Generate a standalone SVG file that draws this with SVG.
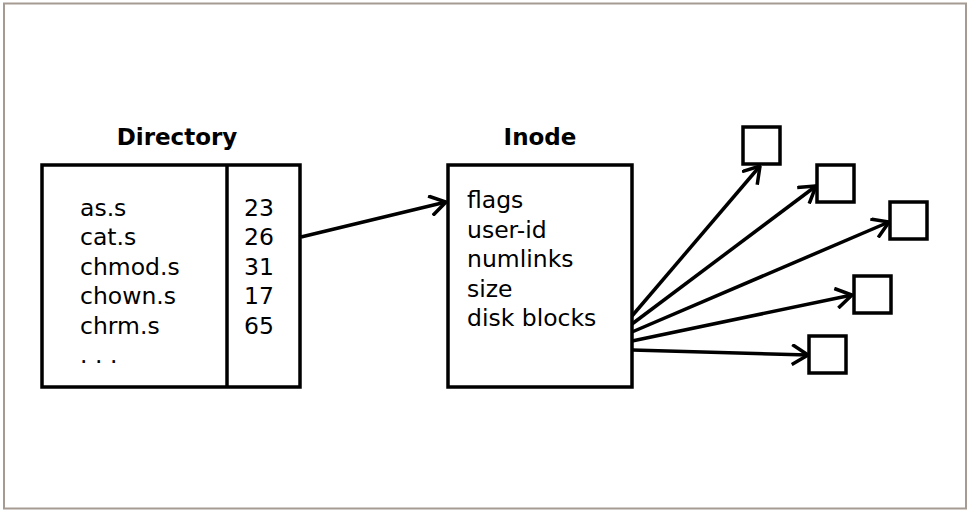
<svg xmlns="http://www.w3.org/2000/svg" width="969" height="511" viewBox="0 0 969 511">
<style>
.box{fill:#fff;stroke:#000;stroke-width:3.5}
.t{font-family:"DejaVu Sans",sans-serif;font-size:23.5px;fill:#000}
.h{font-family:"DejaVu Sans",sans-serif;font-size:23px;font-weight:bold;fill:#000;text-anchor:middle}
.c{fill:none;stroke:#000;stroke-width:3.5}
</style>
<defs>
<marker id="ah" viewBox="0 0 18 22" refX="17" refY="11" markerWidth="18" markerHeight="22" markerUnits="userSpaceOnUse" orient="auto">
<path d="M1,1 L17,11 L1,21" fill="none" stroke="#000" stroke-width="3.5"/>
</marker>
</defs>
<rect x="4" y="3.5" width="962" height="505" fill="#fff" stroke="#a59b92" stroke-width="2"/>
<g id="directory">
<text class="h" x="177" y="145">Directory</text>
<rect class="box" x="42" y="165" width="258" height="222"/>
<line x1="227" y1="165" x2="227" y2="387" stroke="#000" stroke-width="3.5"/>
<text class="t" x="80" y="215.5">as.s</text>
<text class="t" x="80" y="245">cat.s</text>
<text class="t" x="80" y="274.5">chmod.s</text>
<text class="t" x="80" y="304">chown.s</text>
<text class="t" x="80" y="333.5">chrm.s</text>
<text class="t" x="80" y="363">. . .</text>
<text class="t" x="244" y="215.5">23</text>
<text class="t" x="244" y="245">26</text>
<text class="t" x="244" y="274.5">31</text>
<text class="t" x="244" y="304">17</text>
<text class="t" x="244" y="333.5">65</text>
</g>
<g id="inode">
<text class="h" x="540" y="145">Inode</text>
<rect class="box" x="448" y="165" width="184" height="222"/>
<text class="t" x="467" y="208">flags</text>
<text class="t" x="467" y="237.5">user-id</text>
<text class="t" x="467" y="267">numlinks</text>
<text class="t" x="467" y="296.5">size</text>
<text class="t" x="467" y="326">disk blocks</text>
</g>
<g id="block1"><rect class="box" x="743" y="127" width="37" height="37"/></g>
<g id="block2"><rect class="box" x="817" y="165" width="37" height="37"/></g>
<g id="block3"><rect class="box" x="890" y="202" width="37" height="37"/></g>
<g id="block4"><rect class="box" x="854" y="276" width="37" height="37"/></g>
<g id="block5"><rect class="box" x="809" y="336" width="37" height="37"/></g>
<g id="connectors">
<line class="c" x1="301" y1="237" x2="446" y2="202" marker-end="url(#ah)"/>
<line class="c" x1="632" y1="316" x2="760" y2="166" marker-end="url(#ah)"/>
<line class="c" x1="632" y1="324" x2="816" y2="186" marker-end="url(#ah)"/>
<line class="c" x1="632" y1="332" x2="889" y2="222" marker-end="url(#ah)"/>
<line class="c" x1="632" y1="341" x2="852" y2="295" marker-end="url(#ah)"/>
<line class="c" x1="632" y1="350" x2="808" y2="355" marker-end="url(#ah)"/>
</g>
</svg>
